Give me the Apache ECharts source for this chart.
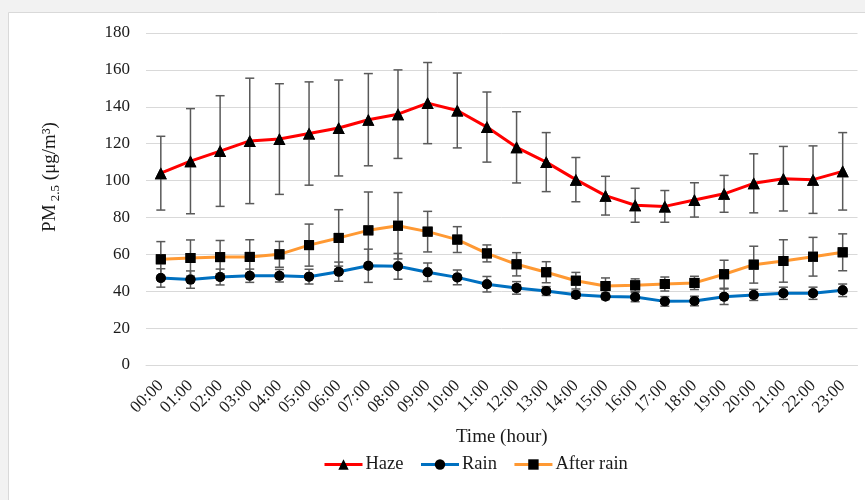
<!DOCTYPE html>
<html><head><meta charset="utf-8">
<script src="https://cdn.jsdelivr.net/npm/echarts@6/dist/echarts.min.js"></script>
<style>html,body{margin:0;padding:0;background:#f2f2f2;}#c{width:865px;height:500px;}</style>
</head><body><div id="c"></div>
<script>
const hours = ['00:00','01:00','02:00','03:00','04:00','05:00','06:00','07:00','08:00','09:00','10:00','11:00','12:00','13:00','14:00','15:00','16:00','17:00','18:00','19:00','20:00','21:00','22:00','23:00'];
const hazeMean = [104,110.5,116,121.5,122.5,125.5,128.5,133,136,142,138,129,118,110,100.5,91.8,86.6,86,89.5,92.8,98.5,101,100.5,105];
const hazeSd   = [20,28.5,30,34,30,28,26,25,24,22,20.3,19,19.3,16,12,10.5,9.2,8.6,9.3,10,16,17.5,18.3,21];
const rainMean = [47.2,46.3,47.7,48.4,48.4,47.9,50.6,53.8,53.5,50.3,47.5,43.8,41.8,40.1,38.1,37.2,36.9,34.5,34.7,37,38,38.9,38.9,40.5];
const rainSd   = [5,4.7,4.3,3.6,3.4,4,5.2,9,7,5,4,4.2,3.4,2.4,1.9,1.7,2.6,2.6,2.6,4.2,3,3.3,3.3,3.4];
const afterMean = [57.3,58,58.5,58.6,60,65,68.9,73,75.5,72.3,68,60.5,54.6,50.3,45.7,42.8,43.2,43.9,44.5,49.2,54.4,56.4,58.7,61.1];
const afterSd   = [9.6,9.8,9,9.3,7,11.4,15.3,20.8,18,11,7,4.6,6.3,5.7,4.5,4.4,3.5,3.8,3.6,7.6,10,11.5,10.5,10];
const yTicks = {min:0, max:180, interval:20};

const font = '"Liberation Serif","Times New Roman",serif';
const txt = '#1a1a1a';
const errData = (m, s) => m.map((v, i) => [i, v - s[i], v + s[i]]);
function errSeries(m, s) {
  return {
    type: 'custom', z: 3, silent: true,
    renderItem: function (params, api) {
      const x = api.value(0);
      const lo = api.coord([x, api.value(1)]);
      const hi = api.coord([x, api.value(2)]);
      const w = 4.5;
      const st = {stroke: '#595959', lineWidth: 1.5};
      return {type: 'group', children: [
        {type: 'line', shape: {x1: lo[0], y1: lo[1], x2: hi[0], y2: hi[1]}, style: st},
        {type: 'line', shape: {x1: lo[0]-w, y1: lo[1], x2: lo[0]+w, y2: lo[1]}, style: st},
        {type: 'line', shape: {x1: hi[0]-w, y1: hi[1], x2: hi[0]+w, y2: hi[1]}, style: st}
      ]};
    },
    data: errData(m, s)
  };
}
function lineSeries(name, data, color, symbol, size) {
  return {name, type: 'line', data, z: 2, symbol, symbolSize: size,
    lineStyle: {color, width: 3}, itemStyle: {color: '#000'}, showSymbol: true};
}
function markSeries(data, symbol, size) {
  return {type: 'line', data, z: 4, symbol, symbolSize: size, lineStyle: {opacity: 0}, itemStyle: {color: '#000'}, silent: true};
}

const chart = echarts.init(document.getElementById('c'));
chart.setOption({
  backgroundColor: 'transparent',
  animation: false,
  textStyle: {fontFamily: font},
  graphic: [{type: 'rect', z: -10, shape: {x: 8.5, y: 12.5, width: 900, height: 520},
    style: {fill: '#fff', stroke: '#d9d9d9', lineWidth: 1}}],
  grid: {left: 146, right: 7.5, top: 33, bottom: 135},
  legend: {
    top: 450, left: 318, itemWidth: 38, itemHeight: 13, itemGap: 16,
    data: ['Haze', 'Rain', 'After rain'],
    lineStyle: {width: 3},
    textStyle: {fontFamily: font, fontSize: 18.5, color: txt, padding: [0, 0, 0, -2]}
  },
  xAxis: {
    type: 'category', data: hours, boundaryGap: true,
    name: 'Time (hour)', nameLocation: 'middle', nameGap: 63,
    nameTextStyle: {fontFamily: font, fontSize: 19, color: txt},
    axisLine: {lineStyle: {color: '#d9d9d9'}}, axisTick: {show: false},
    axisLabel: {rotate: 45, interval: 0, fontFamily: font, fontSize: 17, color: txt, margin: 18}
  },
  yAxis: {
    type: 'value', min: yTicks.min, max: yTicks.max, interval: yTicks.interval,
    name: '{a|PM}{s| 2.5}{a| (μg/m³)}', nameLocation: 'middle', nameRotate: 90, nameGap: 84,
    nameTextStyle: {fontFamily: font, color: txt, padding: [0, 0, 0, 44], rich: {
      a: {fontFamily: font, fontSize: 19, lineHeight: 24, color: txt},
      s: {fontFamily: font, fontSize: 13, lineHeight: 24, verticalAlign: 'bottom', color: txt}
    }},
    axisLine: {show: false}, axisTick: {show: false},
    splitLine: {lineStyle: {color: '#d9d9d9', width: 1}},
    axisLabel: {fontFamily: font, fontSize: 17, color: txt, margin: 16}
  },
  series: [
    lineSeries('Haze', hazeMean, '#ff0000', 'triangle', 12),
    lineSeries('Rain', rainMean, '#0070c0', 'circle', 10),
    lineSeries('After rain', afterMean, '#ff9933', 'rect', 10),
    errSeries(hazeMean, hazeSd),
    errSeries(rainMean, rainSd),
    errSeries(afterMean, afterSd),
    markSeries(hazeMean, 'triangle', 12),
    markSeries(rainMean, 'circle', 10),
    markSeries(afterMean, 'rect', 10)
  ]
});
</script></body></html>
